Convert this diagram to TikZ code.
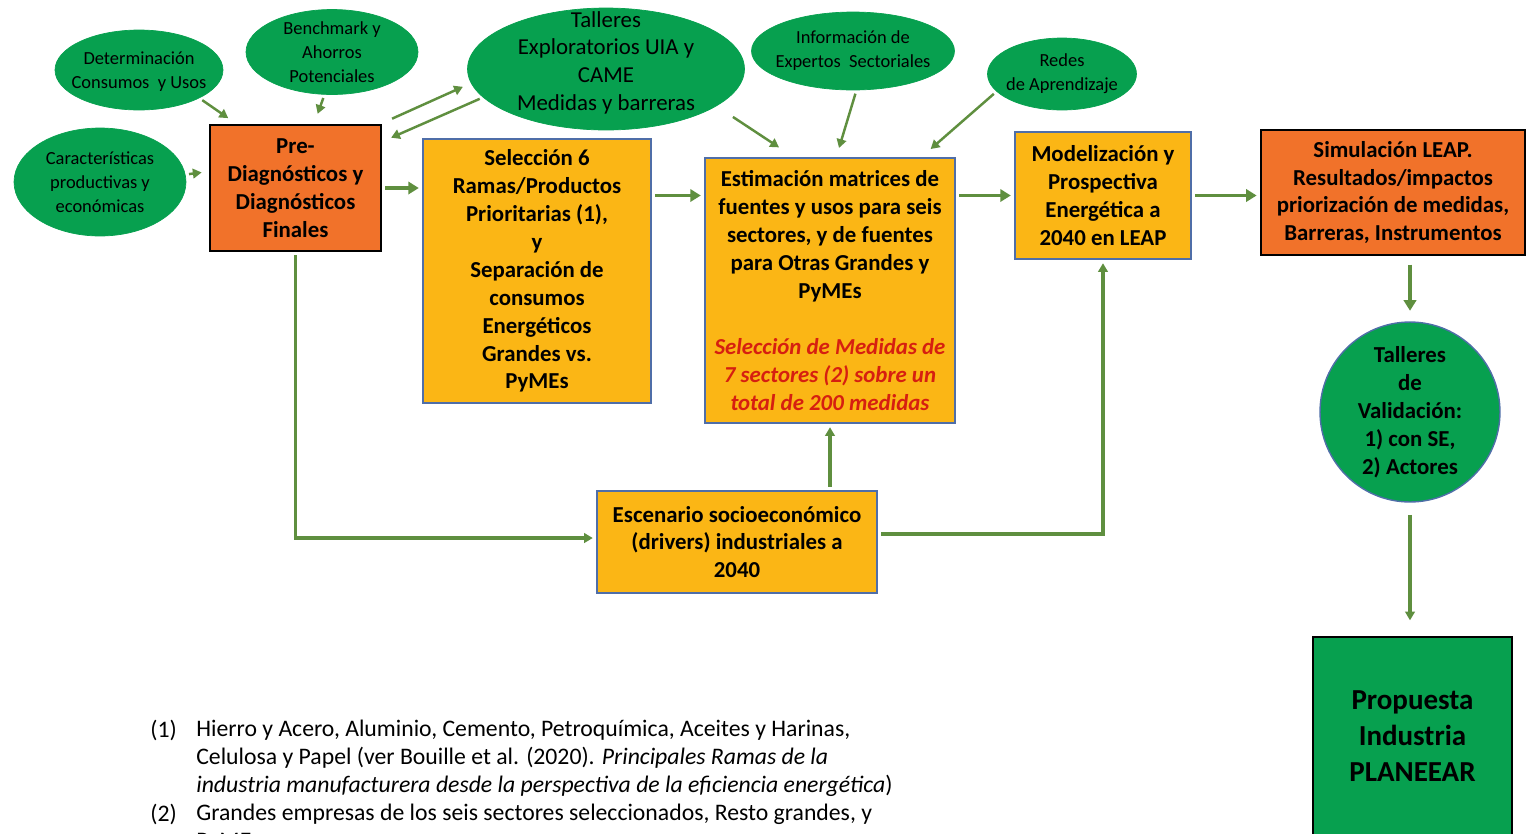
\documentclass[tikz,border=0pt]{standalone}
\usepackage{fontspec}
\setmainfont{Carlito}
\usepackage{xcolor}
\usepackage{tikz}
\usetikzlibrary{arrows.meta,positioning,calc,shapes.geometric}
\definecolor{naranja}{HTML}{F1722A}
\definecolor{amarillo}{HTML}{FBB615}
\definecolor{verde}{HTML}{07A04F}
\definecolor{flecha}{HTML}{5F8F3F}
\definecolor{azulgris}{HTML}{4F6EA8}
\definecolor{rojotxt}{HTML}{D61F10}
\newcommand{\boxsize}{\fontsize{13}{15.9}\selectfont}
\newcommand{\ellsize}{\fontsize{10.5}{13.6}\selectfont}
\newcommand{\notesize}{\fontsize{13.5}{15.9}\selectfont}
\newcommand{\propsize}{\fontsize{16.5}{20.4}\selectfont}
\newcommand{\rojo}[1]{\textcolor{rojotxt}{\textit{#1}}}

\begin{document}
\begin{tikzpicture}[
  x=0.02cm, y=-0.02cm,
  orangebox/.style={draw=black, line width=1pt, fill=naranja, align=center, font=\boxsize\bfseries, inner sep=2pt},
  yellowbox/.style={draw=azulgris, line width=0.8pt, fill=amarillo, align=center, font=\boxsize\bfseries, inner sep=2pt},
  greenell/.style={ellipse, fill=verde, draw=verde, inner sep=0pt},
  elltext/.style={align=center, font=\ellsize, inner sep=0pt},
  notetxt/.style={align=left, font=\notesize, inner sep=0pt},
  arr/.style={-{Triangle[length=5pt,width=5.5pt]}, line width=1.4pt, draw=flecha, shorten <=2pt, shorten >=2pt},
  bigarr/.style={arr, line width=2.2pt, -{Triangle[length=6pt,width=7pt]}}
]
\useasboundingbox (0,0) rectangle (1526,833);

% Inputs (ellipses)
\node[greenell, minimum width=3.36cm, minimum height=1.6cm] (det) at (139,70) {};
\node[elltext] (dett) at ([yshift=-1pt]det) {Determinación\\Consumos~ y Usos};
\node[greenell, minimum width=3.44cm, minimum height=1.7cm] (bench) at (332,52) {};
\node[elltext] (bencht) at (bench) {Benchmark y\\Ahorros\\Potenciales};
\node[greenell, minimum width=3.44cm, minimum height=2.16cm] (carac) at (100,182) {};
\node[elltext] (caract) at (carac) {Características\\productivas y\\económicas};
\node[greenell, minimum width=5.54cm, minimum height=2.44cm] (tal) at (606,69) {};
\node[elltext, font=\boxsize] (talt) at ([yshift=3.5pt]tal) {Talleres\\Exploratorios UIA y\\CAME\\Medidas y barreras};
\node[greenell, minimum width=4.06cm, minimum height=1.56cm] (info) at (853,51) {};
\node[elltext] (infot) at (info) {Información de\\Expertos~ Sectoriales};
\node[greenell, minimum width=2.98cm, minimum height=1.44cm] (redes) at (1062,74) {};
\node[elltext] (redest) at (redes) {Redes\\de Aprendizaje};

% Main boxes
\node[orangebox, minimum width=3.42cm, minimum height=2.52cm] (pre) at (295.5,188) {Pre-\\Diagnósticos y\\Diagnósticos\\Finales};
\node[yellowbox, minimum width=4.56cm, minimum height=5.28cm] (sel) at (537,271) {Selección 6\\Ramas/Productos\\Prioritarias (1),\\y\\Separación de\\consumos\\Energéticos\\Grandes vs.\\PyMEs};
\node[yellowbox, minimum width=5cm, minimum height=5.3cm] (est) at (830,290.5) {Estimación matrices de\\fuentes y usos para seis\\sectores, y de fuentes\\para Otras Grandes y\\PyMEs\\[15.9pt]\rojo{Selección de Medidas de}\\\rojo{7 sectores (2) sobre un}\\\rojo{total de 200 medidas}};
\node[yellowbox, minimum width=3.52cm, minimum height=2.54cm] (mod) at (1103,195.5) {Modelización y\\Prospectiva\\Energética a\\2040 en LEAP};
\node[orangebox, minimum width=5.28cm, minimum height=2.5cm] (sim) at (1393,192.5) {Simulación LEAP.\\Resultados/impactos\\priorización de medidas,\\Barreras, Instrumentos};
\node[yellowbox, minimum width=5.6cm, minimum height=2.04cm] (esc) at (737,542) {Escenario socioeconómico\\(drivers) industriales a\\2040};
\node[circle, fill=verde, draw=azulgris, line width=0.8pt, minimum size=3.6cm, inner sep=0pt, align=center, font=\boxsize\bfseries] (val) at (1410,412) {Talleres\\de\\Validación:\\1) con SE,\\2) Actores};
\node[draw=black, line width=1pt, fill=verde, minimum width=3.98cm, minimum height=3.96cm, align=center, font=\propsize\bfseries] (prop) at (1412.5,736) {Propuesta\\Industria\\PLANEEAR};

% Arrows into the diagnostics
\draw[arr] (det.-25) -- ([shift={(22,-4)}]pre.north west);
\draw[arr] (bench.-100) -- ([shift={(21,-7)}]pre.north);
\draw[arr] (carac.5) -- ([shift={(-4,-16)}]pre.west);
\draw[arr, shorten >=5pt] ([shift={(7,-4)}]pre.north east) -- (tal.186);
\draw[arr] (tal.193) -- ([shift={(6,15)}]pre.north east);

% Arrows into the estimation
\draw[arr] ([shift={(124,46)}]tal.center) -- ([shift={(-48,-8)}]est.north);
\draw[arr] (info.-85) -- ([shift={(8,-6)}]est.north);
\draw[arr] (redes.195) -- ([shift={(98,-6)}]est.north);

% Main flow
\draw[bigarr] (pre.east) -- (pre.east -| sel.west);
\draw[bigarr] (sel.east |- mod) -- (est.west |- mod);
\draw[bigarr] (est.east |- mod) -- (mod.west);
\draw[bigarr] (mod.east) -- (mod.east -| sim.west);
\draw[bigarr, shorten <=5pt, shorten >=6pt] (sim.south -| val) -- (val.north);
\draw[arr, line width=1.8pt, shorten <=7pt, shorten >=9pt] (val.south) -- (val.south |- prop.north);

% Socioeconomic scenario
\draw[arr, line width=1.8pt] (pre.south) |- ([shift={(0,-4)}]esc.west);
\draw[arr, line width=1.8pt] (est.south |- esc.north) -- (est.south);
\draw[arr, line width=1.8pt] ([shift={(0,-8)}]esc.east) -| (mod.south);

% Notes
\node[notetxt, anchor=north west] (n1) at (150,720) {(1)};
\node[notetxt, anchor=north west] (nota1) at (196,720) {Hierro y Acero, Aluminio, Cemento, Petroquímica, Aceites y Harinas,\\Celulosa y Papel (ver Bouille et al. (2020). \textit{Principales Ramas de la}\\\textit{industria manufacturera desde la perspectiva de la eficiencia energética})};
\node[notetxt, anchor=north west] (n2) at (150,804) {(2)};
\node[notetxt, anchor=north west] (nota2) at (196,804) {Grandes empresas de los seis sectores seleccionados, Resto grandes, y\\PyMEs};

\end{tikzpicture}
\end{document}
